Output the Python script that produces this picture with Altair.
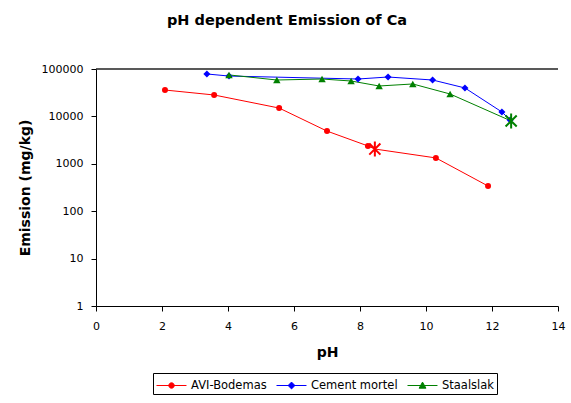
import altair as alt
import pandas as pd

series_names = ["AVI-Bodemas", "Cement mortel", "Staalslak"]
series_colors = ["#FF0000", "#0000FF", "#008000"]
series_shapes = ["circle", "diamond", "triangle-up"]
series_sizes = [36, 50, 55]

avi_ph = [2.09, 3.58, 5.55, 7.0, 8.24, 8.45, 10.3, 11.88]
avi_em = [36000, 28300, 15000, 4900, 2380, 2050, 1330, 340]

cem_ph = [3.36, 4.03, 7.94, 8.85, 10.2, 11.18, 12.3, 12.55]
cem_em = [78500, 71000, 61500, 67800, 58600, 39800, 12400, 8400]

sta_ph = [4.03, 5.48, 6.85, 7.73, 8.58, 9.6, 10.73, 12.58]
sta_em = [75000, 58600, 61500, 55800, 43800, 48300, 29700, 8000]

# highlighted (asterisk) points
star_series = ["AVI-Bodemas", "Staalslak"]
star_ph = [8.45, 12.58]
star_em = [2050, 8000]

x_ticks = [0, 2, 4, 6, 8, 10, 12, 14]
y_ticks = [1, 10, 100, 1000, 10000, 100000]

rows = []
for name, xs, ys in zip(series_names, [avi_ph, cem_ph, sta_ph], [avi_em, cem_em, sta_em]):
    for i, (x, y) in enumerate(zip(xs, ys)):
        rows.append({"series": name, "pH": x, "em": y, "order": i})
df = pd.DataFrame(rows)
is_star = pd.Series(False, index=df.index)
for s, x in zip(star_series, star_ph):
    is_star |= (df["series"] == s) & (df["pH"] == x)
marker_df = df[~is_star]

FONT = "DejaVu Sans"

# legend symbol: a line with the series marker in its middle (units of 9 px)
legend_shape_expr = (
    "datum.value == 'AVI-Bodemas' ? 'M-1,0L2.33,0M0.97,0A0.3,0.3 0 1 1 0.37,0A0.3,0.3 0 1 1 0.97,0Z' : "
    "(datum.value == 'Cement mortel' ? 'M-1,0L2.33,0M0.67,-0.38L1.05,0L0.67,0.38L0.29,0Z' : "
    "'M-1,0L2.33,0M0.67,-0.38L1.05,0.3L0.29,0.3Z')"
)

color = alt.Color("series:N", scale=alt.Scale(domain=series_names, range=series_colors),
                  legend=alt.Legend(
                      title=None, orient="none", legendX=57, legendY=304,
                      direction="horizontal", columns=3,
                      strokeColor="#000000", padding=3, columnPadding=7,
                      labelFont=FONT, labelFontSize=11.5, labelColor="#000000",
                      symbolSize=324, symbolStrokeWidth=1, labelOffset=16,
                      symbolType={"expr": legend_shape_expr},
                      symbolFillColor={"expr": "scale('color', datum.value)"},
                      symbolStrokeColor={"expr": "scale('color', datum.value)"},
                  ))

xenc = alt.X("pH:Q", scale=alt.Scale(domain=[0, 14], nice=False),
             axis=alt.Axis(values=x_ticks, title="pH", grid=False, titleFont=FONT,
                           titleFontSize=14, titleFontWeight="bold", titleY=46,
                           titleBaseline="middle", labelFont=FONT, labelFontSize=11,
                           labelColor="#000", domainColor="#000", tickColor="#000",
                           tickSize=5, labelPadding=9, labelFlush=False))
yenc = alt.Y("em:Q", scale=alt.Scale(type="log", domain=[1, 100000], nice=False),
             axis=alt.Axis(values=y_ticks, title="Emission (mg/kg)", grid=False,
                           format="d", titleFont=FONT, titleFontSize=14,
                           titleFontWeight="bold", titleX=-71, titleY=118.5,
                           titleAngle=-90, titleAlign="center", titleBaseline="middle",
                           labelFont=FONT, labelFontSize=11, labelColor="#000",
                           domainColor="#000", tickColor="#000", tickSize=5,
                           labelPadding=8, labelFlush=False))

lines = alt.Chart(df).mark_line(strokeWidth=1).encode(x=xenc, y=yenc, color=color, order="order:Q")

top_rule = alt.Chart(pd.DataFrame({"y": [100000]})).mark_rule(color="#222", strokeWidth=1.5).encode(y="y:Q")

layers = [lines, top_rule]
for name, col, shp, sz in zip(series_names, series_colors, series_shapes, series_sizes):
    layers.append(
        alt.Chart(marker_df[marker_df["series"] == name]).mark_point(
            filled=True, opacity=1, size=sz, shape=shp, color=col
        ).encode(x="pH:Q", y="em:Q")
    )

stars = pd.DataFrame({"series": star_series, "pH": star_ph, "em": star_em})
for name, col in zip(series_names, series_colors):
    sub = stars[stars["series"] == name]
    if len(sub):
        layers.append(
            alt.Chart(sub).mark_point(
                shape="M0,-1L0,1M-0.75,-0.75L0.75,0.75M-0.75,0.75L0.75,-0.75",
                size=220, strokeWidth=2, filled=False, opacity=1, color=col,
            ).encode(x="pH:Q", y="em:Q")
        )

chart = alt.layer(*layers).properties(
    width=462, height=237,
    autosize=alt.AutoSizeParams(type="none"),
    padding={"left": 96, "top": 69, "right": 13, "bottom": 97},
    title=alt.Title("pH dependent Emission of Ca", font=FONT, fontSize=14.5,
                    fontWeight="bold", color="#000", offset=35, dx=-40),
).configure(background="#ffffff").configure_view(stroke=None)

chart.save("out.html", embed_options={"renderer": "svg", "actions": False})
